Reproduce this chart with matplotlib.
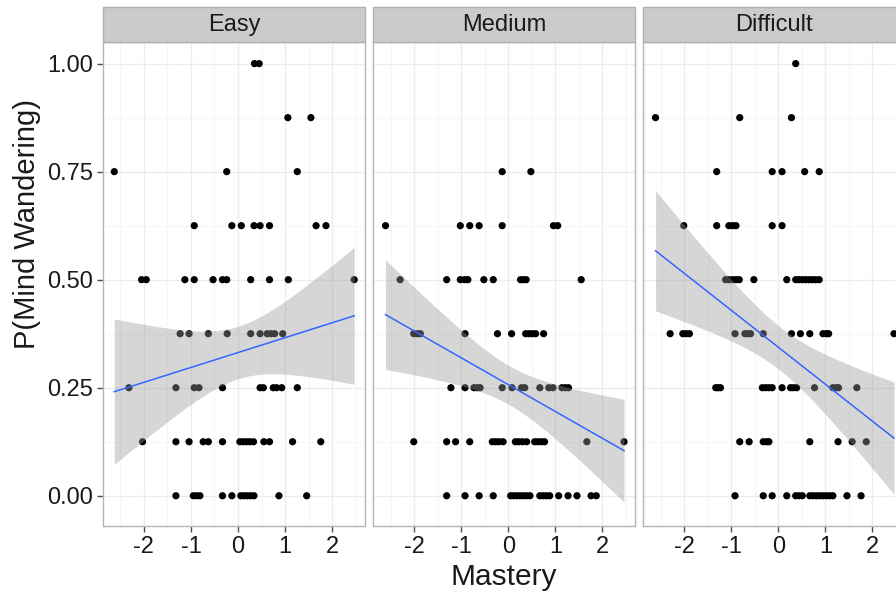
import numpy as np
import matplotlib
matplotlib.use("Agg")
from matplotlib import pyplot as plt
from matplotlib.patches import Rectangle
from matplotlib.ticker import MultipleLocator, FixedLocator

plt.rcParams['font.family'] = ['Liberation Sans', 'DejaVu Sans']

# mastery scores for each observed P(mind wandering) level, one dict per condition
easy_rows = {
    1.000: [0.35, 0.45],
    0.875: [1.06, 1.55],
    0.750: [-2.63, -0.24, 1.26],
    0.625: [-0.93, -0.13, 0.07, 0.34, 0.47, 0.67, 1.66, 1.87],
    0.500: [-2.05, -1.95, -1.13, -0.93, -0.53, -0.33, -0.24, 0.27, 0.67, 1.07, 2.47],
    0.375: [-1.23, -1.04, -0.63, -0.23, 0.27, 0.47, 0.62, 0.70, 0.78, 0.95],
    0.250: [-2.32, -1.32, -0.93, -0.83, -0.33, 0.47, 0.54, 0.75, 0.82, 0.93, 1.26],
    0.125: [-2.03, -1.32, -1.04, -0.74, -0.63, -0.33, 0.04, 0.11, 0.18, 0.25, 0.33,
            0.55, 0.67, 1.16, 1.76],
    0.000: [-1.32, -0.95, -0.88, -0.81, -0.33, -0.13, 0.06, 0.13, 0.20, 0.27, 0.34,
            0.87, 1.46],
}
medium_rows = {
    0.750: [-0.13, 0.48],
    0.625: [-2.61, -1.02, -0.82, -0.62, -0.13, 0.96, 1.05],
    0.500: [-2.30, -1.31, -1.02, -0.93, -0.86, -0.52, -0.32, 0.26, 0.32, 0.38, 1.55],
    0.375: [-2.01, -1.94, -1.87, -0.92, -0.23, 0.07, 0.37, 0.44, 0.51, 0.58, 0.75],
    0.250: [-1.22, -0.92, -0.73, -0.66, -0.60, -0.13, 0.08, 0.28, 0.35, 0.67, 0.86,
            0.95, 1.14, 1.21, 1.28],
    0.125: [-2.01, -1.31, -1.12, -0.82, -0.34, -0.27, -0.20, -0.11, 0.15, 0.22, 0.30,
            0.39, 0.56, 0.63, 0.70, 0.77, 1.67, 2.46],
    0.000: [-1.31, -0.92, -0.62, -0.32, 0.05, 0.11, 0.18, 0.25, 0.32, 0.39, 0.46,
            0.67, 0.74, 0.81, 0.88, 1.07, 1.27, 1.46, 1.76, 1.87],
}
difficult_rows = {
    1.000: [0.37],
    0.875: [-2.61, -0.82, 0.28],
    0.750: [-1.31, -0.13, 0.08, 0.56, 0.87],
    0.625: [-2.01, -1.31, -1.05, -0.97, -0.90, -0.13, 0.08],
    0.500: [-1.12, -1.05, -0.97, -0.90, -0.83, -0.52, 0.18, 0.37, 0.44, 0.51, 0.58,
            0.65, 0.72, 0.79, 0.87],
    0.375: [-2.30, -2.03, -1.96, -1.89, -0.92, -0.71, -0.64, -0.59, -0.32, 0.28, 0.47,
            0.67, 0.95, 1.02, 1.07, 2.46],
    0.250: [-1.33, -1.28, -1.23, -0.34, -0.27, -0.20, -0.13, 0.08, 0.26, 0.32, 0.39,
            0.77, 1.16, 1.23, 1.28, 1.67],
    0.125: [-0.82, -0.62, -0.32, -0.25, -0.20, 0.67, 1.27, 1.57, 1.87],
    0.000: [-0.92, -0.32, -0.13, 0.18, 0.37, 0.44, 0.51, 0.67, 0.74, 0.81, 0.88, 0.95,
            1.02, 1.09, 1.16, 1.46, 1.76],
}

conditions = ["Easy", "Medium", "Difficult"]
panel_rows = [easy_rows, medium_rows, difficult_rows]

x_ticks = [-2, -1, 0, 1, 2]
y_ticks = [0.0, 0.25, 0.5, 0.75, 1.0]


def t_quantile(p, df):
    # Cornish-Fisher expansion of Student's t around the normal quantile
    z = {0.975: 1.959964}[p]
    g1 = (z ** 3 + z) / 4
    g2 = (5 * z ** 5 + 16 * z ** 3 + 3 * z) / 96
    g3 = (3 * z ** 7 + 19 * z ** 5 + 17 * z ** 3 - 15 * z) / 384
    return z + g1 / df + g2 / df ** 2 + g3 / df ** 3


def linear_fit(x, y, n_grid=80):
    # ordinary least squares line with a 95% confidence band, like geom_smooth(method="lm")
    n = len(x)
    xbar = x.mean()
    sxx = ((x - xbar) ** 2).sum()
    slope = ((x - xbar) * (y - y.mean())).sum() / sxx
    icept = y.mean() - slope * xbar
    resid = y - (icept + slope * x)
    s = np.sqrt((resid ** 2).sum() / (n - 2))
    grid = np.linspace(x.min(), x.max(), n_grid)
    fit = icept + slope * grid
    se = s * np.sqrt(1 / n + (grid - xbar) ** 2 / sxx)
    t = t_quantile(0.975, n - 2)
    return grid, fit, fit - t * se, fit + t * se


W, H = 896, 593
fig = plt.figure(figsize=(W / 100, H / 100), dpi=100)

panel_left = [103, 373.3, 643.3]
panel_w = 262
panel_top, panel_bot = 42, 526
strip_top = 7.3

for i, (name, rows) in enumerate(zip(conditions, panel_rows)):
    xs = np.array([v for lvl in rows for v in rows[lvl]])
    ys = np.array([lvl for lvl in rows for _ in rows[lvl]])

    ax = fig.add_axes([panel_left[i] / W, (H - panel_bot) / H,
                       panel_w / W, (panel_bot - panel_top) / H])
    ax.set_xlim(-2.87, 2.70)
    ax.set_ylim(-0.07, 1.05)

    ax.xaxis.set_major_locator(FixedLocator(x_ticks))
    ax.xaxis.set_minor_locator(MultipleLocator(0.5))
    ax.yaxis.set_major_locator(FixedLocator(y_ticks))
    ax.yaxis.set_minor_locator(MultipleLocator(0.125))
    ax.grid(which='major', color='#ececec', lw=1.0, zorder=0)
    ax.grid(which='minor', color='#f6f6f6', lw=0.8, zorder=0)
    ax.set_axisbelow(True)

    ax.set_xticklabels([str(t) for t in x_ticks])
    ax.tick_params(which='minor', length=0)
    ax.tick_params(which='major', length=4, width=1, color='#4d4d4d',
                   labelsize=17, labelcolor='#1a1a1a', pad=3)
    if i == 0:
        ax.set_yticklabels(['%.2f' % t for t in y_ticks])
    else:
        ax.set_yticklabels([])
        ax.tick_params(axis='y', which='both', length=0)

    for sp in ax.spines.values():
        sp.set_color('#b5b5b5')
        sp.set_linewidth(1.0)

    ax.scatter(xs, ys, s=27, color='black', edgecolors='none', zorder=2)

    grid, fit, lo, hi = linear_fit(xs, ys)
    ax.fill_between(grid, lo, hi, color='#999999', alpha=0.4, lw=0, zorder=3)
    ax.plot(grid, fit, color='#3366FF', lw=1.1, zorder=4)

    # facet strip above each panel
    fig.patches.append(Rectangle((panel_left[i] / W, (H - panel_top) / H),
                                 panel_w / W, (panel_top - strip_top) / H,
                                 transform=fig.transFigure, facecolor='#cbcbcb',
                                 edgecolor='#b0b0b0', lw=1.0))
    fig.text((panel_left[i] + panel_w / 2) / W, (H - (panel_top + strip_top) / 2) / H,
             name, ha='center', va='center', fontsize=17, color='#1a1a1a')

fig.text(504 / W, (H - 577) / H, "Mastery", ha='center', va='center',
         fontsize=21.5, color='#1a1a1a')
fig.text(27 / W, (H - 224) / H, "P(Mind Wandering)", ha='center', va='center',
         rotation=90, fontsize=21, color='#1a1a1a')

fig.savefig("out.png", dpi=100)
